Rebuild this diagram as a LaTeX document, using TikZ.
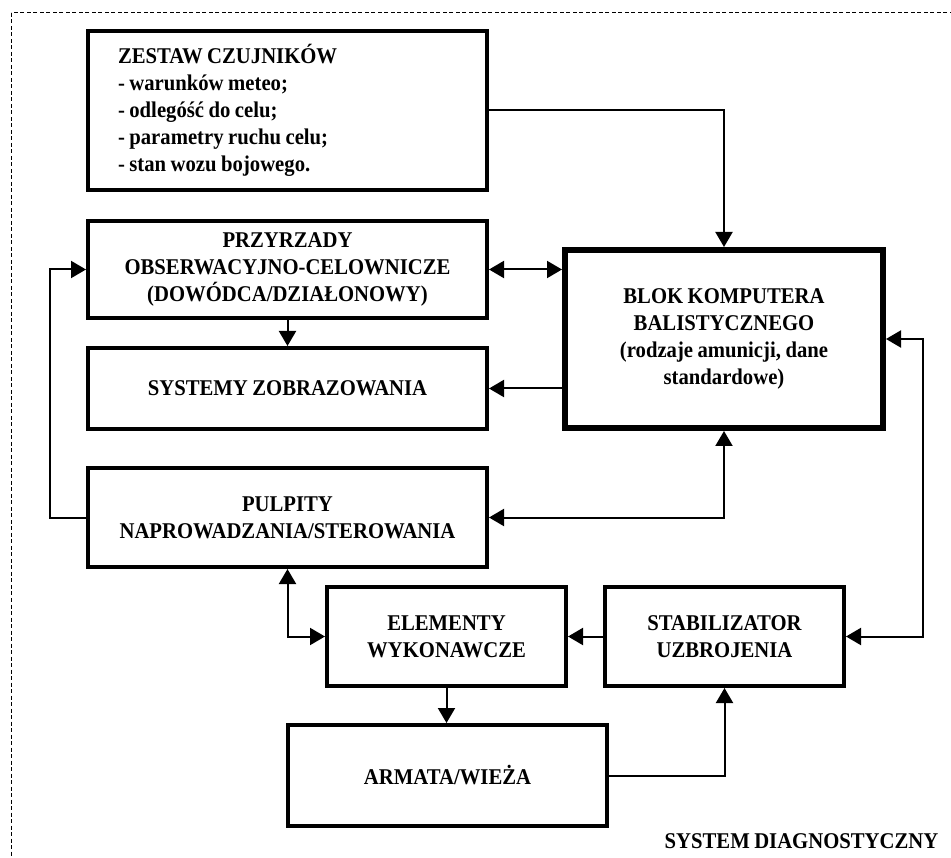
\documentclass[tikz,border=0pt]{standalone}
\usepackage{fontspec}
\setmainfont{Liberation Serif}[FakeStretch=0.92]
\usetikzlibrary{arrows.meta}
% narrower inter-word spaces inside the block labels
\newcommand\tightwords{\spaceskip=0.2em plus 0.05em\relax}

\begin{document}
\begin{tikzpicture}[x=1pt,y=-1pt,
  txt/.style={font=\fontsize{22.5}{27}\selectfont\bfseries,execute at begin node=\tightwords},
  blockbox/.style={draw,line width=4pt,rectangle,txt,align=center,inner sep=0pt},
  mainbox/.style={blockbox,line width=6pt},
  link/.style={line width=2pt},
  arr/.style={link,-{Triangle[length=15pt,width=17pt]}},
  darr/.style={link,{Triangle[length=15pt,width=17pt]}-{Triangle[length=15pt,width=17pt]}}
]
\useasboundingbox (0,0) rectangle (951,858);

% dashed frame of the diagnostic system (runs past the page on the right and bottom)
\draw[line width=1pt,dash pattern=on 4pt off 2.5pt] (11,13) rectangle (980,890);

% blocks
\node[blockbox,align=left,text width=339pt,inner xsep=30pt,minimum height=159pt]
  (zestaw) at (287.5,110.5)
  {ZESTAW CZUJNIKÓW\\- warunków meteo;\\- odlegóść do celu;\\- parametry ruchu celu;\\- stan wozu bojowego.};
\node[blockbox,minimum width=399pt,minimum height=97pt] (przyrz) at (287.5,269.5)
  {PRZYRZADY\\OBSERWACYJNO-CELOWNICZE\\(DOWÓDCA/DZIAŁONOWY)};
\node[blockbox,minimum width=399pt,minimum height=81pt] (zobraz) at (287.5,388.5)
  {SYSTEMY ZOBRAZOWANIA};
\node[blockbox,minimum width=399pt,minimum height=99pt] (pulpity) at (287.5,517.5)
  {PULPITY\\NAPROWADZANIA/STEROWANIA};
\node[mainbox,minimum width=318pt,minimum height=178pt] (blok) at (724,339)
  {BLOK KOMPUTERA\\BALISTYCZNEGO\\(rodzaje amunicji, dane\\standardowe)};
\node[blockbox,minimum width=239pt,minimum height=99pt] (elem) at (446.5,636.5)
  {ELEMENTY\\WYKONAWCZE};
\node[blockbox,minimum width=239pt,minimum height=99pt] (stab) at (724.5,636.5)
  {STABILIZATOR\\UZBROJENIA};
\node[blockbox,minimum width=319pt,minimum height=101pt] (armata) at (447.5,775.5)
  {ARMATA/WIEŻA};
\node[txt] (diag) at (801.5,841) {SYSTEM DIAGNOSTYCZNY};

% bend points of the outer loops
\coordinate (leftrun) at (50,0);
\coordinate (rightrun) at (923,0);

% connectors
\draw[arr] (zestaw.east) -| (blok.north);
\draw[darr] (przyrz.east) -- (przyrz.east -| blok.west);
\draw[arr] (blok.west |- zobraz.east) -- (zobraz.east);
\draw[arr] (przyrz.south) -- (zobraz.north);
\draw[darr] (pulpity.east) -| (blok.south);
\draw[arr] (pulpity.west) -- (pulpity.west -| leftrun) -- (przyrz.west -| leftrun) -- (przyrz.west);
\draw[darr] (pulpity.south) |- (elem.west);
\draw[arr] (stab.west) -- (elem.east);
\draw[arr] (elem.south) -- (elem.south |- armata.north);
\draw[arr] (armata.east) -| (stab.south);
\draw[darr] (stab.east) -- (stab.east -| rightrun) -- (blok.east -| rightrun) -- (blok.east);
\end{tikzpicture}
\end{document}
